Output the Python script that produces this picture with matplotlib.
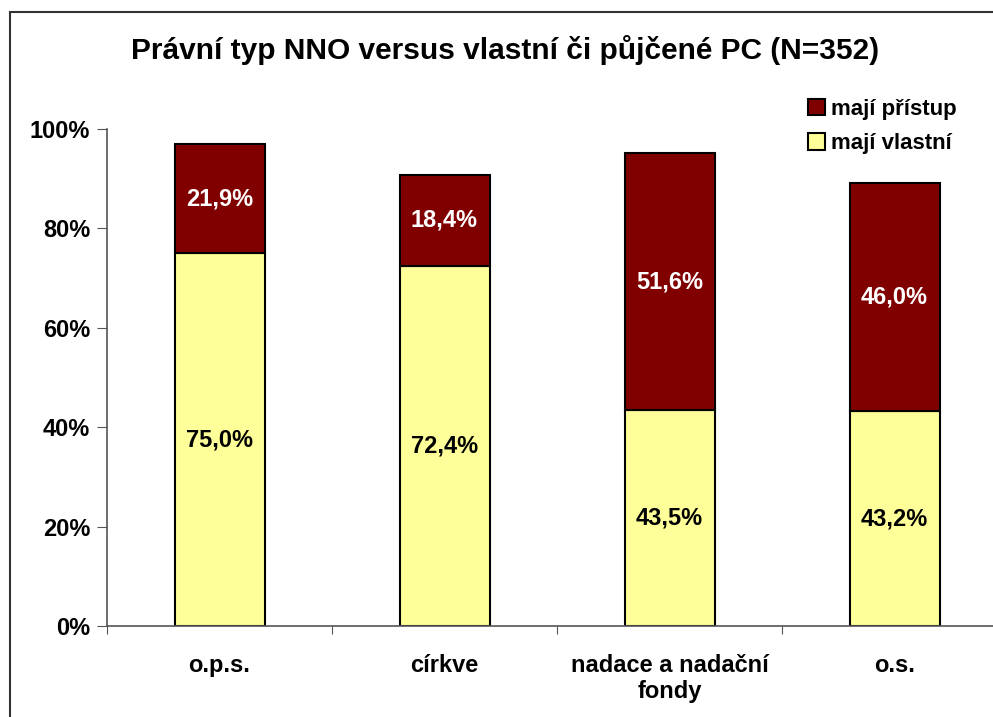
import matplotlib.pyplot as plt
from matplotlib.patches import Rectangle

plt.rcParams['font.family'] = ['Liberation Sans', 'DejaVu Sans']
plt.rcParams['font.weight'] = 'bold'

categories = ['o.p.s.', 'církve', 'nadace a nadační\nfondy', 'o.s.']
vlastni = [75.0, 72.4, 43.5, 43.2]
pristup = [21.9, 18.4, 51.6, 46.0]
yticks = [0, 20, 40, 60, 80, 100]

fig = plt.figure(figsize=(9.93, 7.17), dpi=100)
W, H = 993, 717

# outer chart frame (cropped at right/bottom like the original)
fig.patches.append(Rectangle((10 / W, -0.1), 1.2, (H - 12) / H + 0.1,
                             transform=fig.transFigure, fill=False,
                             edgecolor='#333333', linewidth=1.5))

ax = fig.add_axes([107 / W, (H - 626) / H, 900 / W, 497 / H])
x = range(len(categories))
b1 = ax.bar(x, vlastni, width=0.4, color='#FFFF99', edgecolor='black', linewidth=1.5)
b2 = ax.bar(x, pristup, width=0.4, bottom=vlastni, color='#800000',
            edgecolor='black', linewidth=1.5)

for i in x:
    ax.text(i, vlastni[i] / 2, f'{vlastni[i]:.1f}%'.replace('.', ','),
            ha='center', va='center', fontsize=17, color='black')
    ax.text(i, vlastni[i] + pristup[i] / 2, f'{pristup[i]:.1f}%'.replace('.', ','),
            ha='center', va='center', fontsize=17, color='white')

ax.set_xlim(-0.5, len(categories) - 0.5)
ax.set_ylim(0, 100)
ax.set_yticks(yticks)
ax.set_yticklabels([f'{t}%' for t in yticks], fontsize=17)
ax.set_xticks([i - 0.5 for i in range(len(categories) + 1)])
ax.set_xticklabels([])
ax.set_xticks(list(x), minor=True)
ax.set_xticklabels(categories, minor=True, fontsize=17, linespacing=1.2)
ax.tick_params(axis='x', which='minor', length=0, pad=20)
ax.tick_params(axis='x', which='major', length=6, color='#555555', direction='out')
ax.tick_params(axis='y', length=7, color='#555555', pad=5)

for s in ['top', 'right']:
    ax.spines[s].set_visible(False)
for s in ['left', 'bottom']:
    ax.spines[s].set_color('#555555')
    ax.spines[s].set_linewidth(1.2)

fig.text(505 / W, 1 - 50 / H, 'Právní typ NNO versus vlastní či půjčené PC (N=352)',
         ha='center', va='center', fontsize=21.5)

ax.legend([b2, b1], ['mají přístup', 'mají vlastní'], loc='upper left',
          bbox_to_anchor=(788 / W, 1 - 79 / H), bbox_transform=fig.transFigure,
          frameon=False, fontsize=16, handlelength=0.75, handleheight=0.75,
          handletextpad=0.3, labelspacing=0.6)

fig.savefig('out.png', dpi=100)
